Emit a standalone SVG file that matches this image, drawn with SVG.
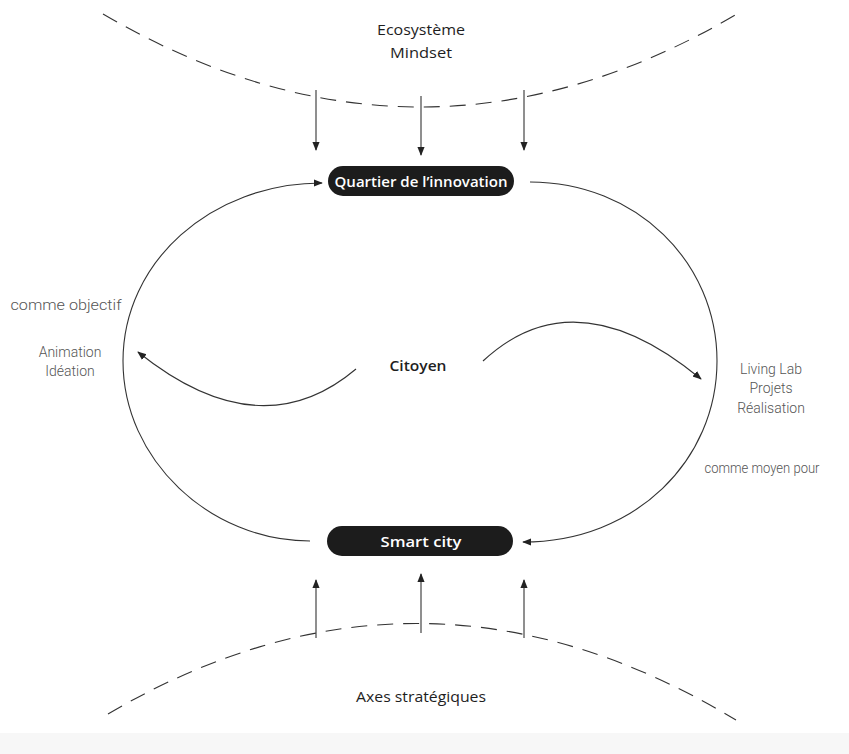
<svg xmlns="http://www.w3.org/2000/svg" width="849" height="754" viewBox="0 0 849 754">
<style>
.lbl{font-family:"Open Sans","Noto Sans","Liberation Sans",sans-serif;font-size:14.5px;font-weight:500;fill:#1e1e1e;text-anchor:middle}
.strong{font-weight:600}
.gray{font-family:Roboto,"Liberation Sans",sans-serif;font-size:14px;font-weight:300;fill:#555;text-anchor:middle}
.pill{fill:#1c1c1c}
.pilltxt{font-family:"Open Sans","Noto Sans","Liberation Sans",sans-serif;font-size:15px;font-weight:600;fill:#fff;text-anchor:middle}
.ln{fill:none;stroke:#333;stroke-width:1.1}
.dash{fill:none;stroke:#333;stroke-width:1.1;stroke-dasharray:16 10}
</style>
<defs>
<marker id="ah" viewBox="0 0 10 10" refX="9" refY="5" markerWidth="9" markerHeight="9" markerUnits="userSpaceOnUse" orient="auto">
<path d="M0,1 L10,5 L0,9 Z" fill="#222"/>
</marker>
</defs>
<rect x="0" y="0" width="849" height="754" fill="#fff"/>
<rect x="0" y="733" width="849" height="21" fill="#f7f7f7"/>

<g id="top-band">
<path class="dash" d="M103 14 Q 421 200 737 14"/>
<text class="lbl" x="421" y="35" textLength="88" lengthAdjust="spacingAndGlyphs">Ecosystème</text>
<text class="lbl" x="421" y="58" textLength="62" lengthAdjust="spacingAndGlyphs">Mindset</text>
</g>
<g id="bottom-band">
<path class="dash" d="M108 714 Q 421 530 736 720"/>
<text class="lbl" x="421" y="702" textLength="130" lengthAdjust="spacingAndGlyphs">Axes stratégiques</text>
</g>

<g id="quartier">
<rect class="pill" x="328" y="166" width="186" height="30" rx="15"/>
<text class="pilltxt" x="421" y="186.5" textLength="173" lengthAdjust="spacingAndGlyphs">Quartier de l’innovation</text>
</g>
<g id="smartcity">
<rect class="pill" x="327" y="526" width="186" height="30" rx="15"/>
<text class="pilltxt" x="421" y="546.5" textLength="81" lengthAdjust="spacingAndGlyphs">Smart city</text>
</g>
<g id="citoyen">
<text class="lbl strong" x="418" y="371" textLength="57" lengthAdjust="spacingAndGlyphs">Citoyen</text>
</g>
<g id="labels">
<text class="gray" x="66" y="310" textLength="111" lengthAdjust="spacingAndGlyphs">comme objectif</text>
<text class="gray" x="70" y="357">Animation</text>
<text class="gray" x="70" y="376">Idéation</text>
<text class="gray" x="771" y="374">Living Lab</text>
<text class="gray" x="771" y="393">Projets</text>
<text class="gray" x="771" y="413">Réalisation</text>
<text class="gray" x="762" y="473" textLength="115" lengthAdjust="spacingAndGlyphs">comme moyen pour</text>
</g>

<g id="connectors">
<path class="ln" marker-end="url(#ah)" d="M316 90 L316 150"/>
<path class="ln" marker-end="url(#ah)" d="M421 96 L421 155"/>
<path class="ln" marker-end="url(#ah)" d="M524 90 L524 150"/>
<path class="ln" marker-end="url(#ah)" d="M316 638 L316 580"/>
<path class="ln" marker-end="url(#ah)" d="M421 633 L421 574"/>
<path class="ln" marker-end="url(#ah)" d="M524 638 L524 580"/>
<path class="ln" marker-end="url(#ah)" d="M310 541 C 210 541 123 460 123 361 C 123 262 211 183 322 183"/>
<path class="ln" marker-end="url(#ah)" d="M530 182 C 636 182 717 262 717 361 C 717 460 636 542 523 542"/>
<path class="ln" marker-end="url(#ah)" d="M356 369 Q 260 450 138 352"/>
<path class="ln" marker-end="url(#ah)" d="M483 361 Q 575 275 701 379"/>
</g>
</svg>
